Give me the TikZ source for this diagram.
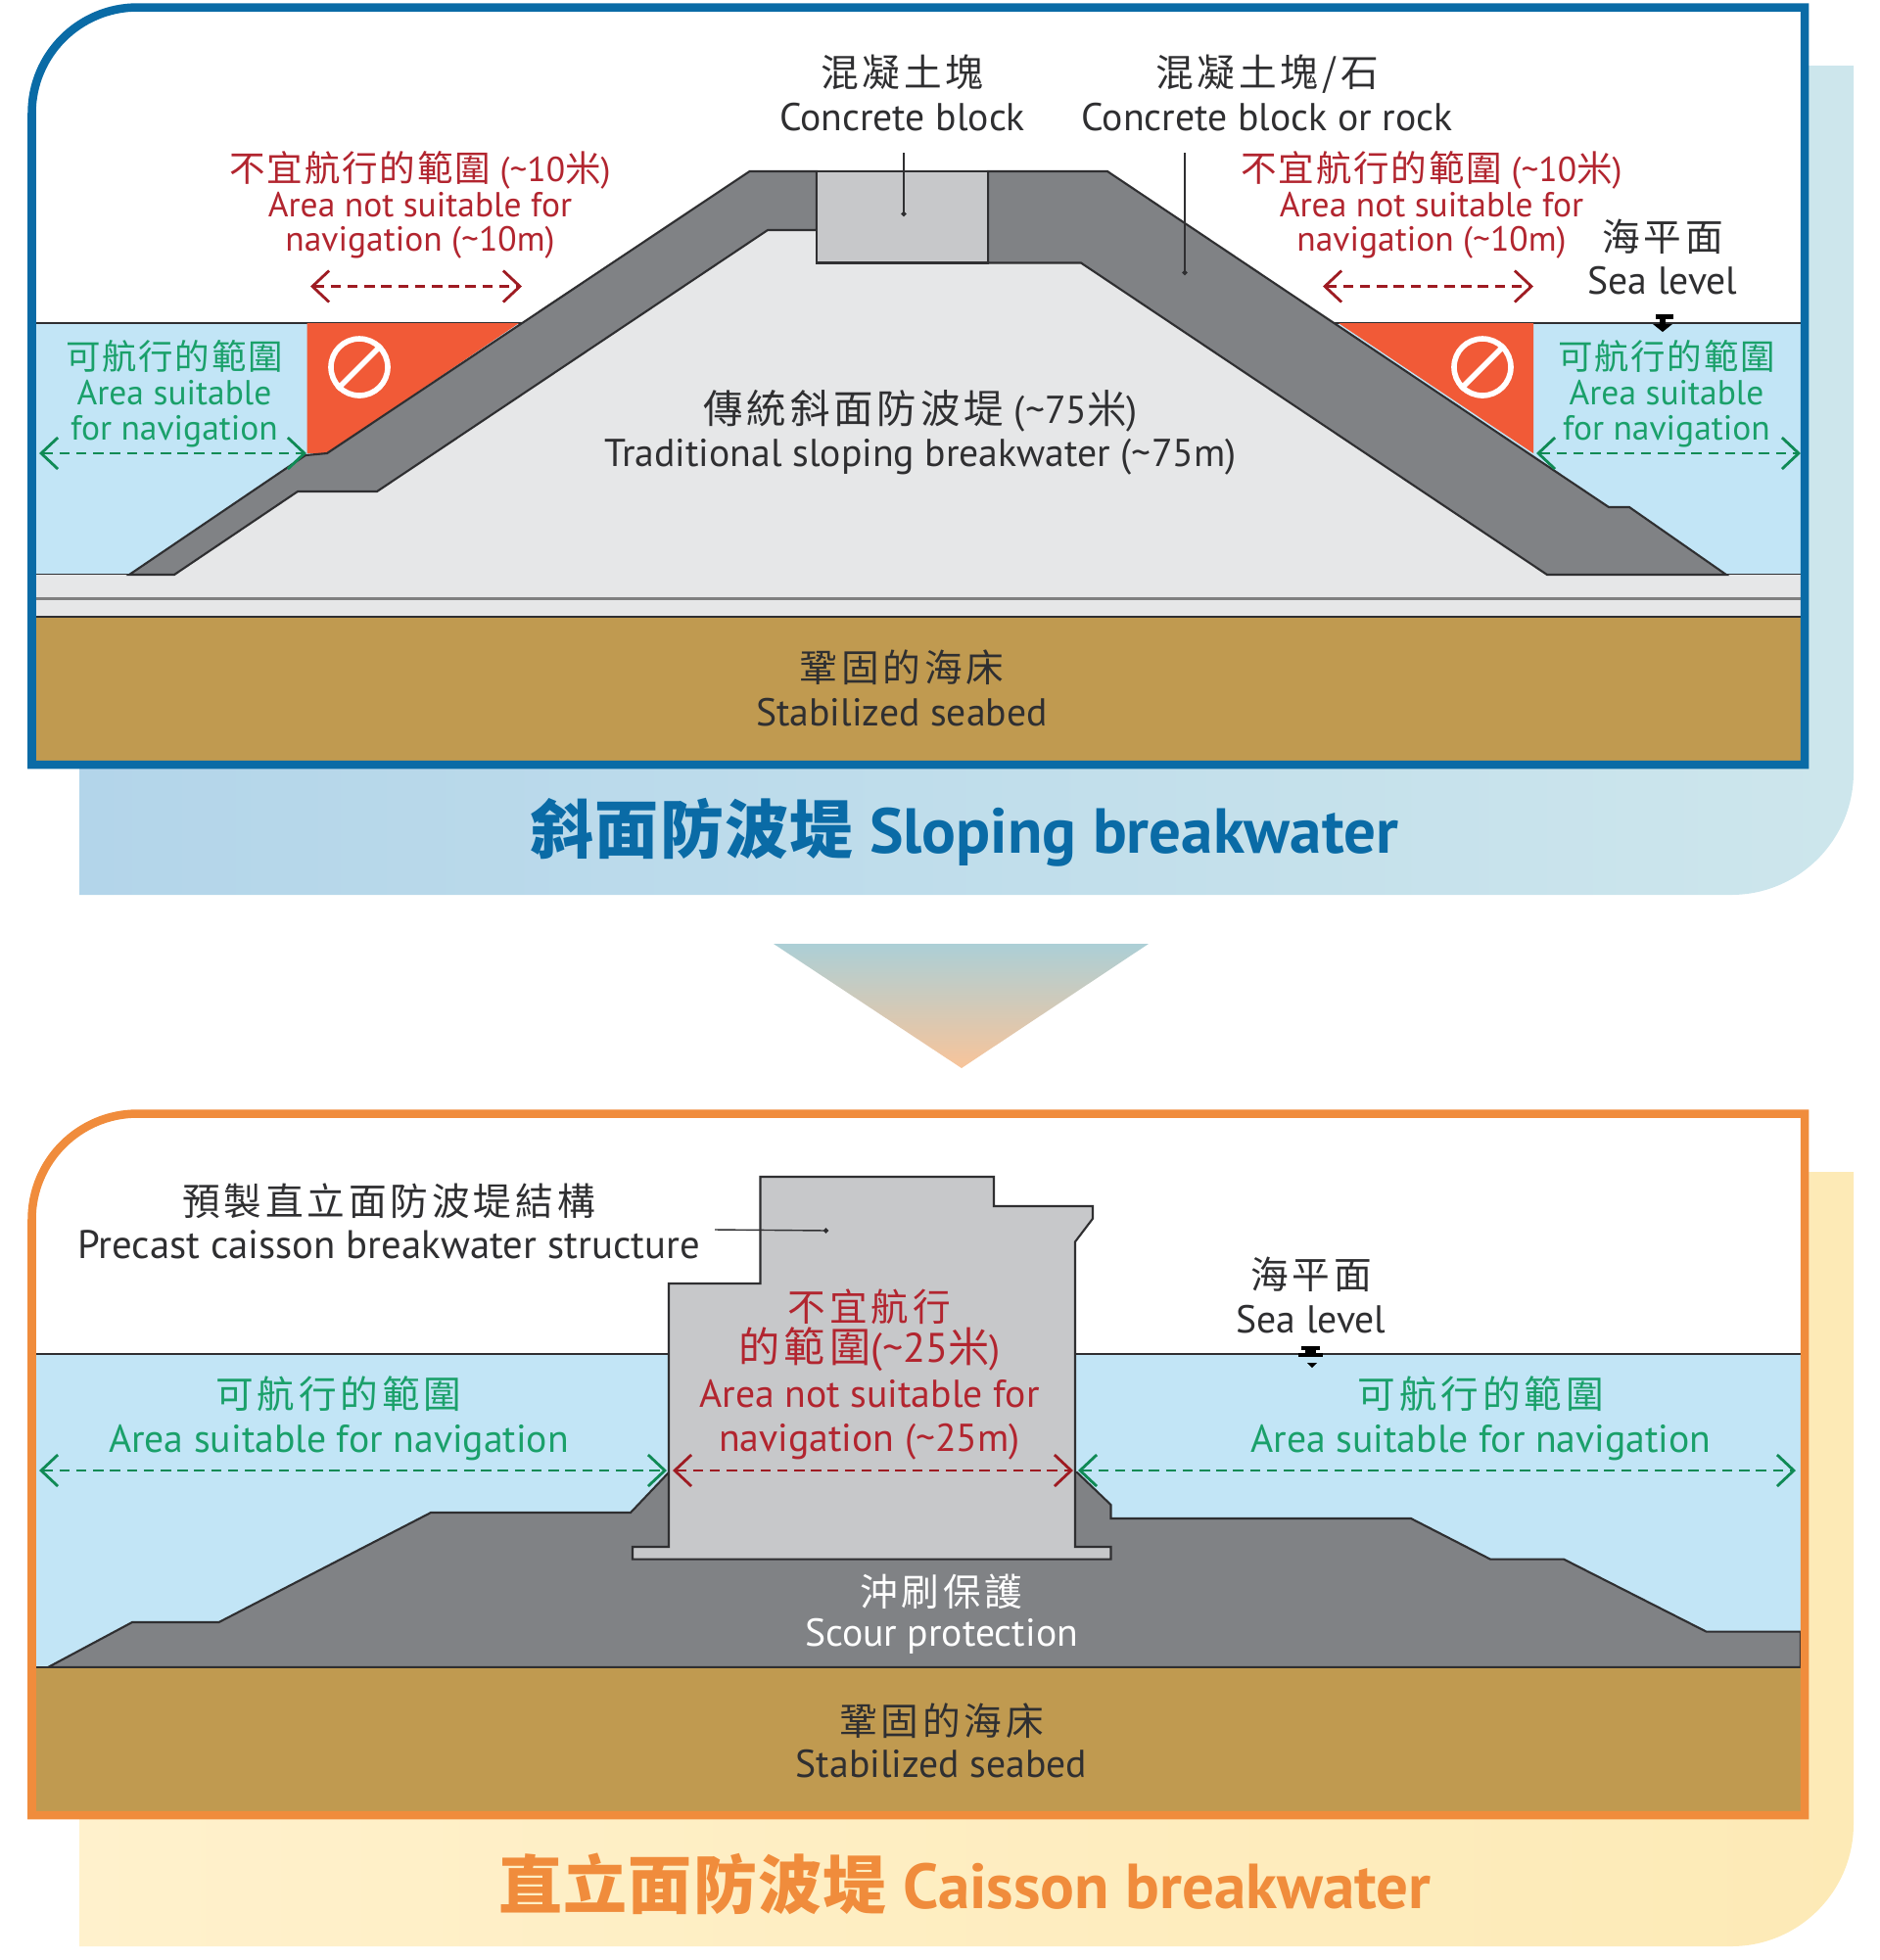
\documentclass[tikz,border=0pt]{standalone}
\usepackage{fontspec}
\usepackage{tikz}
\usetikzlibrary{arrows.meta}
\setmainfont{PT Sans}
\newfontfamily\zh[LetterSpace=10]{Noto Sans CJK TC}
\newfontfamily\zhtight[LetterSpace=5]{Noto Sans CJK TC}
\newfontfamily\zhbf[LetterSpace=2]{Noto Sans CJK TC Bold}
\newcommand{\zhbig}{\zh\fontsize{11}{11}\selectfont}
\definecolor{seablue}{HTML}{C2E5F6}
\definecolor{coregray}{HTML}{E6E7E8}
\definecolor{armourgray}{HTML}{808285}
\definecolor{blockgray}{HTML}{C7C8CA}
\definecolor{seabrown}{HTML}{C09A50}
\definecolor{hazardred}{HTML}{F15A37}
\definecolor{nogored}{HTML}{B2252F}
\definecolor{nogoarrow}{HTML}{9E1B22}
\definecolor{gogreen}{HTML}{1AA06A}
\definecolor{goarrow}{HTML}{0F8A55}
\definecolor{inkgray}{HTML}{2F2F31}
\definecolor{slopeblue}{HTML}{0A6BA6}
\definecolor{caissonorange}{HTML}{F08C3C}

\begin{document}
\begin{tikzpicture}[
		x=1cm, y=-1cm,
		every node/.style={align=center, inner sep=0pt, text=inkgray,
			font=\fontsize{11.3}{10.4}\selectfont},
		small_text/.style={font=\fontsize{10.1}{10.2}\selectfont},
		nogo_text/.style={text=nogored},
		go_text/.style={text=gogreen},
		title_text/.style={font=\fontsize{18.5}{18.5}\selectfont\bfseries},
		nogo_arrow/.style={draw=nogoarrow, line width=0.8pt, dash pattern=on 3pt off 1.9pt,
			{Straight Barb[length=1.7mm, width=3.2mm]}-{Straight Barb[length=1.7mm, width=3.2mm]}},
		go_arrow/.style={nogo_arrow, draw=goarrow},
		lead_line/.style={draw=inkgray, line width=0.4pt, -{Circle[length=0.5mm]}},
		edge_line/.style={draw=inkgray, line width=0.6pt},
		forbid_ring/.style={circle, draw=white, line width=1.6pt, minimum size=0.58cm},
		forbid_bar/.style={draw=white, line width=1.6pt}
	]
  \useasboundingbox (0,0) rectangle (19.2,20.02);

  \shade [left color={rgb,255:red,179;green,213;blue,234}, right color={rgb,255:red,205;green,230;blue,236}]
    (0.81,0.67) -- (18.93,0.67) [rounded corners=1.25cm] -- (18.93,9.14) [sharp corners] -- (0.81,9.14) -- cycle;
  \shade [left color={rgb,255:red,255;green,241;blue,204}, right color={rgb,255:red,253;green,234;blue,182}]
    (0.81,11.97) -- (18.93,11.97) [rounded corners=1.25cm] -- (18.93,19.88) [sharp corners] -- (0.81,19.88) -- cycle;
  \shade [top color={rgb,255:red,172;green,207;blue,214}, bottom color={rgb,255:red,248;green,196;blue,154}]
    (7.90,9.64) -- (11.73,9.64) -- (9.82,10.91) -- cycle;

  \fill [white] (0.325,7.81) [rounded corners=1.08cm] -- (0.325,0.075) [sharp corners] -- (18.43,0.075) -- (18.43,7.81) -- cycle;
  \fill [seablue] (0.37,3.30) rectangle (18.39,5.87);
  \draw [edge_line] (0.37,3.30) -- (18.39,3.30);
  \draw [edge_line] (0.37,5.87) -- (18.39,5.87);
  \fill [hazardred] (3.135,3.30) -- (5.30,3.30) -- (3.34,4.63) -- (3.135,4.63) -- cycle;
  \fill [hazardred] (13.67,3.30) -- (15.66,3.30) -- (15.66,4.63) -- cycle;
  \fill [coregray] (0.37,5.87) -- (1.78,5.87) -- (7.84,2.35) -- (11.04,2.35) -- (15.80,5.87) -- (18.39,5.87) -- (18.39,6.30) -- (0.37,6.30) -- cycle;
  \fill [coregray] (1.78,5.87) -- (3.04,5.02) -- (3.85,5.02) -- (7.84,2.35) -- (11.04,2.685) -- (15.80,5.87) -- cycle;
  \draw [edge_line, fill=armourgray] (1.32,5.87) -- (3.12,4.65) -- (3.34,4.63) -- (7.655,1.75) -- (8.34,1.75) -- (8.34,2.35) -- (7.84,2.35)
    -- (3.85,5.02) -- (3.04,5.02) -- (1.78,5.87) -- cycle;
  \draw [edge_line, fill=armourgray] (10.09,1.75) -- (11.31,1.75) -- (16.43,5.18) -- (16.64,5.18) -- (17.63,5.87) -- (15.80,5.87) -- (11.04,2.685) -- (10.09,2.685) -- cycle;
  \draw [edge_line, fill=blockgray] (8.34,1.75) rectangle (10.09,2.685);
  \draw [edge_line, draw=gray] (0.37,6.115) -- (18.39,6.115);
  \fill [seabrown] (0.37,6.30) rectangle (18.39,7.77);
  \draw [edge_line] (0.37,6.30) -- (18.39,6.30);

  \node (no_go_icon_l) [forbid_ring] at (3.67,3.75) {};
  \node (no_go_icon_r) [forbid_ring] at (15.14,3.75) {};
  \draw [forbid_bar] (no_go_icon_l.south west) -- (no_go_icon_l.north east);
  \draw [forbid_bar] (no_go_icon_r.south west) -- (no_go_icon_r.north east);

  \node (block_label) at (9.215,0.95) {{\zhbig 混凝土塊}\\[2.3pt]Concrete block};
  \node (rock_label) at (12.94,0.95) {{\zhbig 混凝土塊/石}\\[2.3pt]Concrete block or rock};
  \node (nogo_label_l) [small_text, nogo_text] at (4.29,2.095) {{\zhtight\fontsize{10.4}{10.4}\selectfont 不宜航行的範圍} (\textasciitilde 10{\zhtight\fontsize{10.4}{10.4}\selectfont 米})\\Area not suitable for\\navigation (\textasciitilde 10m)};
  \node (nogo_label_r) [small_text, nogo_text] at (14.62,2.095) {{\zhtight\fontsize{10.4}{10.4}\selectfont 不宜航行的範圍} (\textasciitilde 10{\zhtight\fontsize{10.4}{10.4}\selectfont 米})\\Area not suitable for\\navigation (\textasciitilde 10m)};
  \node (sea_label_a) at (16.98,2.625) {{\zhbig 海平面}\\[2pt]Sea level};
  \node (go_label_l) [small_text, go_text] at (1.78,4.025) {{\zhtight 可航行的範圍}\\Area suitable\\for navigation};
  \node (go_label_r) [small_text, go_text] at (17.02,4.025) {{\zhtight 可航行的範圍}\\Area suitable\\for navigation};
  \node (core_label) at (9.40,4.42) {{\zh\fontsize{11.5}{11.5}\selectfont 傳統斜面防波堤} (\textasciitilde 75{\zh\fontsize{11.5}{11.5}\selectfont 米})\\[0.9pt]Traditional sloping breakwater (\textasciitilde 75m)};
  \node (bed_label_a) at (9.21,7.03) {{\zhbig 鞏固的海床}\\[2.2pt]Stabilized seabed};
  \node (title_a) [title_text, text=slopeblue] at (9.85,8.505) {{\zhbf 斜面防波堤} Sloping breakwater};

  \coordinate (block_lead_a) at (9.23,1.56);
  \coordinate (block_lead_b) at (9.23,2.21);
  \coordinate (rock_lead_a) at (12.10,1.56);
  \coordinate (rock_lead_b) at (12.10,2.81);
  \draw [lead_line] (block_lead_a) -- (block_lead_b);
  \draw [lead_line] (rock_lead_a) -- (rock_lead_b);

  \coordinate (nogo_l_a) at (3.17,2.925);
  \coordinate (nogo_l_b) at (5.33,2.925);
  \coordinate (nogo_r_a) at (13.51,2.925);
  \coordinate (nogo_r_b) at (15.66,2.925);
  \coordinate (go_l_a) at (0.40,4.63);
  \coordinate (go_l_b) at (3.13,4.63);
  \coordinate (go_r_a) at (15.69,4.63);
  \coordinate (go_r_b) at (18.39,4.63);
  \draw [nogo_arrow] (nogo_l_a) -- (nogo_l_b);
  \draw [nogo_arrow] (nogo_r_a) -- (nogo_r_b);
  \draw [go_arrow] (go_l_a) -- (go_l_b);
  \draw [go_arrow] (go_r_a) -- (go_r_b);

  \fill [black] (16.91,3.21) rectangle (17.09,3.26);
  \fill [black] (16.95,3.26) rectangle (17.01,3.31);
  \fill [black] (16.88,3.31) -- (17.08,3.31) -- (16.98,3.39) -- cycle;

  \draw [line width=0.085cm, draw=slopeblue] (0.325,7.81) [rounded corners=1.08cm] -- (0.325,0.075) [sharp corners] -- (18.43,0.075) -- (18.43,7.81) -- cycle;

  \fill [white] (0.325,18.54) [rounded corners=1.08cm] -- (0.325,11.375) [sharp corners] -- (18.43,11.375) -- (18.43,18.54) -- cycle;
  \fill [seablue] (0.37,13.83) rectangle (18.39,17.03);
  \draw [edge_line] (0.37,13.83) -- (18.39,13.83);
  \draw [edge_line, fill=armourgray] (0.49,17.03) -- (1.35,16.57) -- (2.235,16.57) -- (4.40,15.45) -- (6.44,15.45) -- (6.83,15.04) -- (11.00,15.04) -- (11.345,15.37) -- (11.345,15.51)
    -- (14.41,15.51) -- (15.22,15.926) -- (15.97,15.926) -- (17.426,16.666) -- (18.39,16.666) -- (18.39,17.03) -- cycle;
  \draw [edge_line, fill=blockgray] (7.765,12.02) -- (10.15,12.02) -- (10.15,12.32) -- (11.16,12.32) -- (11.16,12.447) -- (10.98,12.684) -- (10.98,15.80) -- (11.345,15.80) -- (11.345,15.926)
    -- (6.46,15.926) -- (6.46,15.80) -- (6.83,15.80) -- (6.83,13.11) -- (7.765,13.11) -- cycle;
  \fill [seabrown] (0.37,17.03) rectangle (18.39,18.50);
  \draw [edge_line] (0.37,17.03) -- (18.39,17.03);

  \node (caisson_label) [font=\fontsize{11.6}{10.4}\selectfont] at (3.97,12.475) {{\zhbig 預製直立面防波堤結構}\\[2pt]Precast caisson breakwater structure};
  \node (nogo_label_m) [nogo_text] at (8.88,14.04) {{\zhbig 不宜航行}\\[-0.1pt]{\zh\fontsize{12}{12}\selectfont 的範圍}{\fontsize{12}{12}\selectfont(\textasciitilde 25}{\zh\fontsize{12}{12}\selectfont 米})\\[1.4pt]Area not suitable for\\[2.5pt]navigation (\textasciitilde 25m)};
  \node (go_label_m_l) [go_text] at (3.46,14.485) {{\zhbig 可航行的範圍}\\[2.4pt]Area suitable for navigation};
  \node (go_label_m_r) [go_text] at (15.125,14.485) {{\zhbig 可航行的範圍}\\[2.4pt]Area suitable for navigation};
  \node (sea_label_b) at (13.39,13.23) {{\zhbig 海平面}\\[2.5pt]Sea level};
  \node (scour_label) [text=white] at (9.615,16.49) {{\zhbig 沖刷保護}\\[1.3pt]Scour protection};
  \node (bed_label_b) at (9.615,17.78) {{\zhbig 鞏固的海床}\\[1.7pt]Stabilized seabed};
  \node (title_b) [title_text, text=caissonorange] at (9.855,19.24) {{\zhbf 直立面防波堤} Caisson breakwater};

  \coordinate (caisson_lead_a) at (7.30,12.56);
  \coordinate (caisson_lead_b) at (8.46,12.57);
  \draw [lead_line] (caisson_lead_a) -- (caisson_lead_b);

  \coordinate (nogo_m_a) at (6.87,15.02);
  \coordinate (nogo_m_b) at (10.96,15.02);
  \coordinate (go_m_l_a) at (0.40,15.02);
  \coordinate (go_m_l_b) at (6.81,15.02);
  \coordinate (go_m_r_a) at (11.01,15.02);
  \coordinate (go_m_r_b) at (18.34,15.02);
  \draw [nogo_arrow] (nogo_m_a) -- (nogo_m_b);
  \draw [go_arrow] (go_m_l_a) -- (go_m_l_b);
  \draw [go_arrow] (go_m_r_a) -- (go_m_r_b);

  \fill [black] (13.29,13.75) rectangle (13.48,13.79);
  \fill [black] (13.33,13.79) rectangle (13.44,13.83);
  \fill [black] (13.26,13.82) rectangle (13.51,13.86);
  \fill [black] (13.35,13.92) -- (13.45,13.92) -- (13.40,13.97) -- cycle;

  \draw [line width=0.085cm, draw=caissonorange] (0.325,18.54) [rounded corners=1.08cm] -- (0.325,11.375) [sharp corners] -- (18.43,11.375) -- (18.43,18.54) -- cycle;
\end{tikzpicture}
\end{document}
